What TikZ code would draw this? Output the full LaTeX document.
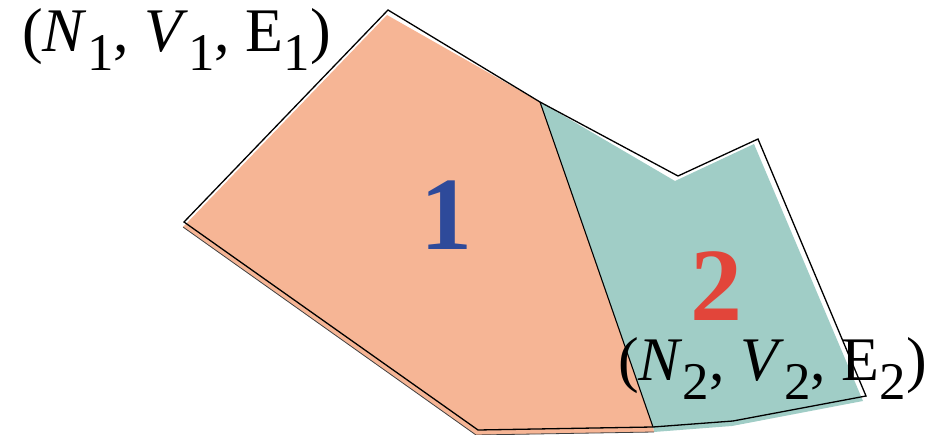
\documentclass[tikz,border=0pt]{standalone}
\usepackage{fontspec}
\setmainfont{Liberation Serif}
\definecolor{orangefill}{HTML}{F6B595}
\definecolor{greenfill}{HTML}{A0CDC6}
\definecolor{numblue}{HTML}{2E4A9A}
\definecolor{numred}{HTML}{E2453A}
\newcommand\sublab[1]{\lower19pt\hbox{\fontsize{53}{53}\selectfont #1}}
\newcommand\triple[1]{(\textit{N}\sublab{#1}, \textit{V}\sublab{#1}, E\sublab{#1})}
\tikzset{
  outline/.style={draw=black, line width=1.3pt, line join=miter},
  label/.style={inner sep=0pt, font=\fontsize{62}{62}\selectfont},
  bignum/.style={inner sep=0pt, font=\fontsize{104}{104}\selectfont\bfseries}
}
\begin{document}
\begin{tikzpicture}[x=1pt,y=-1pt]
\useasboundingbox (0,0) rectangle (943,435);
% outline vertices
\coordinate (L)  at (184,222);
\coordinate (T)  at (388,10);
\coordinate (D1) at (540,102);
\coordinate (V)  at (678,176);
\coordinate (R)  at (758,139);
\coordinate (BR) at (866,396);
\coordinate (B2) at (733,421);
\coordinate (D2) at (653,427);
\coordinate (B1) at (478,430);
% shifted fill vertices
\coordinate (fL)  at (183,227);
\coordinate (fT)  at (387,15);
\coordinate (fV)  at (675,181);
\coordinate (fR)  at (754,144);
\coordinate (fBR) at (863,401);
\coordinate (fB2) at (732,426);
\coordinate (fD2) at (654,432);
\coordinate (fB1) at (476,435);
% fills
\fill[greenfill] (D1) -- (fV) -- (fR) -- (fBR) -- (fB2) -- (fD2) -- (D2) -- cycle;
\fill[orangefill] (fL) -- (fT) -- (D1) -- (D2) -- (fD2) -- (fB1) -- cycle;
\draw[black!75, line width=0.8pt] (fL) -- (fB1) -- (fD2);
% outline
\draw[outline] (L) -- (T) -- (D1) -- (V) -- (R) -- (BR) -- (B2) -- (D2) -- (B1) -- cycle;
\draw[outline, line width=1.1pt] (D1) -- (D2);
% numbers
\node[bignum, text=numblue] (n1) at (446,215) {1};
\node[bignum, text=numred] (n2) at (716,286) {2};
% labels
\node[label, anchor=base west] (lab1) at (22,52) {\triple{1}};
\node[label, anchor=base east] (lab2) at (927,381) {\triple{2}};
\end{tikzpicture}
\end{document}
